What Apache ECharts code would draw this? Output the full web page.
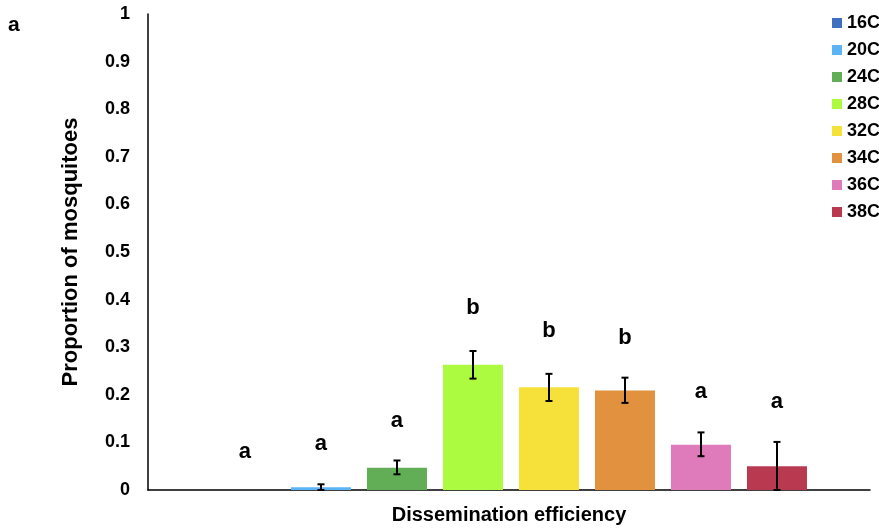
<!DOCTYPE html>
<html>
<head>
<meta charset="utf-8">
<script src="https://cdn.jsdelivr.net/npm/echarts@6/dist/echarts.min.js"></script>
<style>
html,body{margin:0;padding:0;background:#fff;}
#chart{width:879px;height:530px;}
</style>
</head>
<body>
<div id="chart"></div>
<script>
var temps = ['16C','20C','24C','28C','32C','34C','36C','38C'];
var colors = ['#3F6FBF','#5BB4F5','#62AE57','#ADFB40','#F6E13B','#E2913F','#DF7BBB','#B83950'];
var means = [0, 0.006, 0.047, 0.263, 0.216, 0.209, 0.095, 0.050];
var errLow = [null, 0.0, 0.033, 0.234, 0.187, 0.183, 0.071, 0.0];
var errHigh = [null, 0.012, 0.062, 0.292, 0.244, 0.236, 0.121, 0.101];
var letters = ['a','a','a','b','b','b','a','a'];
var letterY = [0.080, 0.097, 0.146, 0.383, 0.335, 0.320, 0.207, 0.184];
var yTicks = [0,0.1,0.2,0.3,0.4,0.5,0.6,0.7,0.8,0.9,1];
var xTitle = 'Dissemination efficiency';
var yTitle = 'Proportion of mosquitoes';
var panelLabel = 'a';

var FONT = 'Liberation Sans, Arial, sans-serif';
var chart = echarts.init(document.getElementById('chart'));

var series = temps.map(function(t, i){
  return {
    name: t, type: 'bar', barWidth: 60, barGap: '-100%',
    itemStyle: {color: colors[i]},
    data: [[i + 1, means[i]]],
    z: 2
  };
});

var errData = [];
temps.forEach(function(t, i){
  if (errLow[i] !== null) errData.push([i + 1, errLow[i], errHigh[i]]);
});

series.push({
  type: 'custom', name: 'err', z: 5,
  renderItem: function(params, api){
    var x = api.value(0);
    var lo = api.coord([x, api.value(1)]);
    var hi = api.coord([x, api.value(2)]);
    var cw = 3.5;
    var st = {stroke: '#000', lineWidth: 2};
    return {type: 'group', children: [
      {type: 'line', shape: {x1: lo[0], y1: lo[1], x2: hi[0], y2: hi[1]}, style: st},
      {type: 'line', shape: {x1: hi[0]-cw, y1: hi[1], x2: hi[0]+cw, y2: hi[1]}, style: st},
      {type: 'line', shape: {x1: lo[0]-cw, y1: lo[1], x2: lo[0]+cw, y2: lo[1]}, style: st}
    ]};
  },
  data: errData
});

series.push({
  type: 'scatter', name: 'letters', symbolSize: 0, z: 6,
  itemStyle: {opacity: 1},
  data: letters.map(function(l, i){ return {value: [i + 1, letterY[i]], name: l}; }),
  label: {show: true, position: 'inside', formatter: function(p){ return p.name; },
    color: '#000', opacity: 1, textBorderWidth: 0, fontFamily: FONT, fontWeight: 'bold', fontSize: 22}
});

chart.setOption({
  animation: false,
  backgroundColor: '#fff',
  grid: {left: 148, top: 14, width: 722, height: 481},
  legend: {
    data: temps, orient: 'vertical', left: 832, top: 14, padding: 0,
    icon: 'rect', itemWidth: 10, itemHeight: 10, itemGap: 9,
    textStyle: {fontFamily: FONT, fontWeight: 'bold', fontSize: 18, color: '#000', lineHeight: 18}
  },
  graphic: [
    {type: 'text', left: 8, top: 15, style: {text: panelLabel, font: 'bold 21px ' + FONT, fill: '#000'}}
  ],
  xAxis: {
    type: 'value', min: -0.276, max: 9.224,
    axisLine: {show: true, onZero: false, lineStyle: {color: '#000', width: 1.5}},
    axisTick: {show: false}, axisLabel: {show: false}, splitLine: {show: false},
    name: xTitle, nameLocation: 'middle', nameGap: 15,
    nameTextStyle: {fontFamily: FONT, fontWeight: 'bold', fontSize: 20, color: '#000'}
  },
  yAxis: {
    type: 'value', min: yTicks[0], max: yTicks[yTicks.length-1], interval: 0.1,
    axisLine: {show: true, onZero: false, lineStyle: {color: '#000', width: 1.5}},
    axisTick: {show: false}, splitLine: {show: false},
    axisLabel: {margin: 18, fontFamily: FONT, fontWeight: 'bold', fontSize: 18, color: '#000',
      formatter: function(v){ return String(Math.round(v*10)/10); }},
    name: yTitle, nameLocation: 'middle', nameGap: 66,
    nameTextStyle: {fontFamily: FONT, fontWeight: 'bold', fontSize: 22, color: '#000'}
  },
  series: series
});
</script>
</body>
</html>
